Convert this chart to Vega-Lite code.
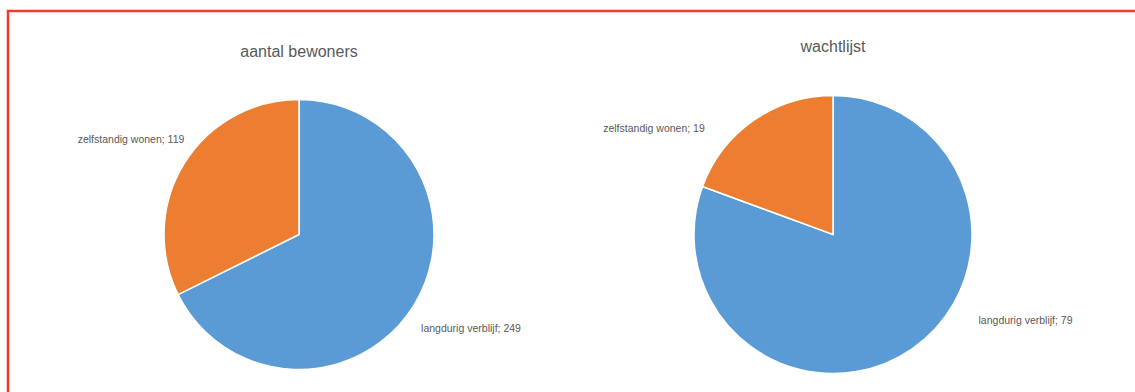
{
  "$schema": "https://vega.github.io/schema/vega-lite/v6.json",
  "width": 1140,
  "height": 447,
  "autosize": {"type": "none"},
  "padding": {"left": 8, "top": 11, "right": 0, "bottom": 0},
  "background": "white",
  "config": {
    "view": {"stroke": "#EE3B2F", "strokeWidth": 2.5},
    "font": "Liberation Sans"
  },
  "data": {
    "values": [
      {"chart": "aantal bewoners", "categorie": "langdurig verblijf", "aantal": 249, "volgorde": 1},
      {"chart": "aantal bewoners", "categorie": "zelfstandig wonen", "aantal": 119, "volgorde": 2},
      {"chart": "wachtlijst", "categorie": "langdurig verblijf", "aantal": 79, "volgorde": 1},
      {"chart": "wachtlijst", "categorie": "zelfstandig wonen", "aantal": 19, "volgorde": 2}
    ]
  },
  "encoding": {
    "x": {
      "field": "chart",
      "type": "nominal",
      "scale": {"type": "point", "domain": ["aantal bewoners", "wachtlijst"], "range": [291, 825], "padding": 0},
      "axis": null
    }
  },
  "layer": [
    {
      "transform": [{"filter": "datum.chart === 'aantal bewoners'"}],
      "mark": {"type": "arc", "radius": 135, "stroke": "white", "strokeWidth": 1.5},
      "encoding": {
        "theta": {"field": "aantal", "type": "quantitative", "stack": "normalize"},
        "order": {"field": "volgorde"},
        "color": {
          "field": "categorie",
          "type": "nominal",
          "scale": {"domain": ["langdurig verblijf", "zelfstandig wonen"], "range": ["#5B9BD5", "#ED7D31"]},
          "legend": null
        }
      }
    },
    {
      "transform": [{"filter": "datum.chart === 'wachtlijst'"}],
      "mark": {"type": "arc", "radius": 139, "stroke": "white", "strokeWidth": 1.5},
      "encoding": {
        "theta": {"field": "aantal", "type": "quantitative", "stack": "normalize"},
        "order": {"field": "volgorde"},
        "color": {
          "field": "categorie",
          "type": "nominal",
          "scale": {"domain": ["langdurig verblijf", "zelfstandig wonen"], "range": ["#5B9BD5", "#ED7D31"]},
          "legend": null
        }
      }
    },
    {
      "transform": [{"filter": "datum.chart === 'aantal bewoners' && datum.volgorde === 1"}],
      "mark": {"type": "text", "fontSize": 16, "color": "#595959", "dy": -182.5, "align": "center", "baseline": "middle"},
      "encoding": {"text": {"field": "chart"}}
    },
    {
      "transform": [{"filter": "datum.chart === 'wachtlijst' && datum.volgorde === 1"}],
      "mark": {"type": "text", "fontSize": 16, "color": "#595959", "dy": -187.5, "align": "center", "baseline": "middle"},
      "encoding": {"text": {"field": "chart"}}
    },
    {
      "transform": [
        {"filter": "datum.chart === 'aantal bewoners'"},
        {"calculate": "datum.categorie + '; ' + datum.aantal", "as": "label"}
      ],
      "mark": {"type": "text", "radius": 150, "dx": 44.5, "dy": 15.5, "fontSize": 10.5, "color": "#595959", "align": "center", "baseline": "middle"},
      "encoding": {
        "theta": {"field": "aantal", "type": "quantitative", "stack": "normalize"},
        "order": {"field": "volgorde"},
        "detail": {"field": "categorie"},
        "text": {"condition": {"test": "datum.categorie === 'langdurig verblijf'", "field": "label"}, "value": ""}
      }
    },
    {
      "transform": [
        {"filter": "datum.chart === 'aantal bewoners'"},
        {"calculate": "datum.categorie + '; ' + datum.aantal", "as": "label"}
      ],
      "mark": {"type": "text", "radius": 150, "dx": -40.5, "dy": -15.5, "fontSize": 10.5, "color": "#595959", "align": "center", "baseline": "middle"},
      "encoding": {
        "theta": {"field": "aantal", "type": "quantitative", "stack": "normalize"},
        "order": {"field": "volgorde"},
        "detail": {"field": "categorie"},
        "text": {"condition": {"test": "datum.categorie === 'zelfstandig wonen'", "field": "label"}, "value": ""}
      }
    },
    {
      "transform": [
        {"filter": "datum.chart === 'wachtlijst'"},
        {"calculate": "datum.categorie + '; ' + datum.aantal", "as": "label"}
      ],
      "mark": {"type": "text", "radius": 150, "dx": 106.7, "dy": -36.5, "fontSize": 10.5, "color": "#595959", "align": "center", "baseline": "middle"},
      "encoding": {
        "theta": {"field": "aantal", "type": "quantitative", "stack": "normalize"},
        "order": {"field": "volgorde"},
        "detail": {"field": "categorie"},
        "text": {"condition": {"test": "datum.categorie === 'langdurig verblijf'", "field": "label"}, "value": ""}
      }
    },
    {
      "transform": [
        {"filter": "datum.chart === 'wachtlijst'"},
        {"calculate": "datum.categorie + '; ' + datum.aantal", "as": "label"}
      ],
      "mark": {"type": "text", "radius": 150, "dx": -93.2, "dy": 17.5, "fontSize": 10.5, "color": "#595959", "align": "center", "baseline": "middle"},
      "encoding": {
        "theta": {"field": "aantal", "type": "quantitative", "stack": "normalize"},
        "order": {"field": "volgorde"},
        "detail": {"field": "categorie"},
        "text": {"condition": {"test": "datum.categorie === 'zelfstandig wonen'", "field": "label"}, "value": ""}
      }
    }
  ]
}
